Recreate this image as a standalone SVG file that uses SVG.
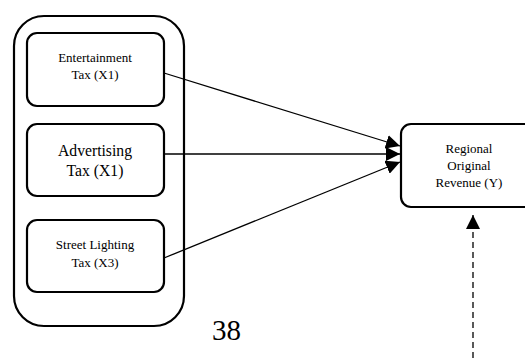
<svg xmlns="http://www.w3.org/2000/svg" width="525" height="358" viewBox="0 0 525 358">
<defs>
<style>
.box{fill:#fff;stroke:#000;stroke-width:2.2}
text{font-family:'Liberation Serif','Times New Roman',serif;fill:#000;text-anchor:middle}
.s{font-size:13px}
.m{font-size:15.7px}
.edge{stroke:#000;stroke-width:1.3;fill:none}
</style>
<marker id="ah" viewBox="0 0 10 10" refX="10" refY="5" markerWidth="14" markerHeight="14" markerUnits="userSpaceOnUse" orient="auto">
<path d="M0,0 L10,5 L0,10 z" fill="#000"/>
</marker>
</defs>
<rect width="525" height="358" fill="#fff"/>
<g id="group">
<rect class="box" x="14" y="16" width="170" height="310" rx="30"/>
</g>
<g id="x1">
<rect class="box" x="27" y="33" width="137" height="73" rx="10"/>
<text class="s" x="95" y="61.5">Entertainment</text>
<text class="s" x="95" y="78.5">Tax (X1)</text>
</g>
<g id="x2">
<rect class="box" x="27" y="124" width="137" height="72" rx="10"/>
<text class="m" x="95" y="155.5">Advertising</text>
<text class="m" x="95" y="176">Tax (X1)</text>
</g>
<g id="x3">
<rect class="box" x="27" y="220" width="137" height="72" rx="10"/>
<text class="s" x="95" y="248.5">Street Lighting</text>
<text class="s" x="95" y="266.5">Tax (X3)</text>
</g>
<g id="y">
<rect class="box" x="401" y="124" width="136" height="83" rx="10"/>
<text class="s" x="469" y="152.5">Regional</text>
<text class="s" x="469" y="169.5">Original</text>
<text class="s" x="469" y="186.5">Revenue (Y)</text>
</g>
<g id="connectors">
<line class="edge" x1="164" y1="73" x2="400" y2="146" marker-end="url(#ah)"/>
<line class="edge" x1="164" y1="154" x2="400" y2="154" marker-end="url(#ah)"/>
<line class="edge" x1="164" y1="258" x2="400" y2="162" marker-end="url(#ah)"/>
<line class="edge" x1="473" y1="358" x2="473" y2="215" stroke-dasharray="6,4" marker-end="url(#ah)"/>
</g>
<text x="226.5" y="340" font-size="29">38</text>
</svg>
